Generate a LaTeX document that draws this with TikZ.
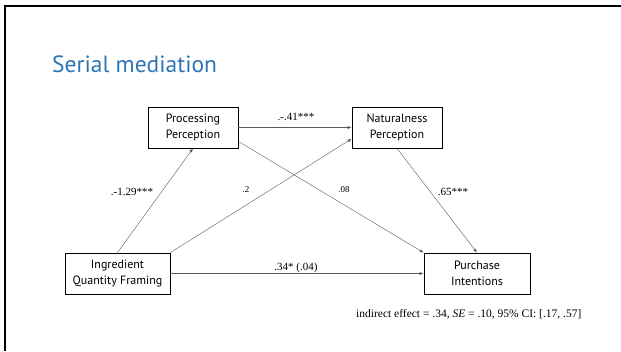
\documentclass[tikz,border=0pt]{standalone}
\usepackage{fontspec}
\setmainfont{Liberation Serif}
\newfontfamily\boxfont{PT Sans}
\usetikzlibrary{arrows.meta}
\definecolor{titleblue}{RGB}{46,117,182}

\begin{document}
\begin{tikzpicture}[x=1pt,y=-1pt,
  var/.style={draw,line width=0.8pt,minimum height=41pt,align=center,inner sep=0pt,
    font=\boxfont\fontsize{12}{16}\selectfont},
  effect/.style={draw=black!65,line width=0.4pt,-{Latex[length=4pt,width=3pt]}},
  coef/.style={inner sep=0pt,font=\fontsize{11}{13}\selectfont},
  small coef/.style={inner sep=0pt,font=\fontsize{9}{11}\selectfont}]
\useasboundingbox (0,0) rectangle (621,351);
\draw[line width=2pt] (5,351) -- (5,6) -- (621,6);

\node[anchor=base west,inner sep=0pt,text=titleblue,font=\boxfont\fontsize{23.5}{28}\selectfont] at (52,72) (title) {Serial mediation};

\node[var,minimum width=90pt] at (193,127.5) (proc) {Processing\\Perception};

\node[var,minimum width=90pt] at (397,127.5) (nat) {Naturalness\\Perception};

\node[var,minimum width=105pt] at (117.5,273.5) (ingr) {Ingredient\\Quantity Framing};

\node[var,minimum width=106pt] at (477,273.5) (purch) {Purchase\\Intentions};

\draw[effect] (ingr.north) -- (proc.south);
\draw[effect] (ingr.north east) -- (nat.194);
\draw[effect] (proc.east) -- (nat.west);
\draw[effect] (proc.-17) -- (purch.north west);
\draw[effect] (nat.south) -- (purch.north);
\draw[effect] (ingr.east) -- (purch.west);

\node[coef] at (132,192) (a1) {.-1.29***};
\node[small coef] at (246,190) (a2) {.2};
\node[coef] at (296,117) (d21) {.-.41***};
\node[small coef] at (344,190) (b1) {.08};
\node[coef] at (453,192) (b2) {.65***};
\node[coef] at (296,268) (c) {.34* (.04)};

\node[anchor=west,inner sep=0pt,font=\fontsize{11.5}{13}\selectfont] at (356,314) (ind) {indirect effect = .34, \textit{SE} = .10, 95\% CI: [.17, .57]};
\end{tikzpicture}
\end{document}
